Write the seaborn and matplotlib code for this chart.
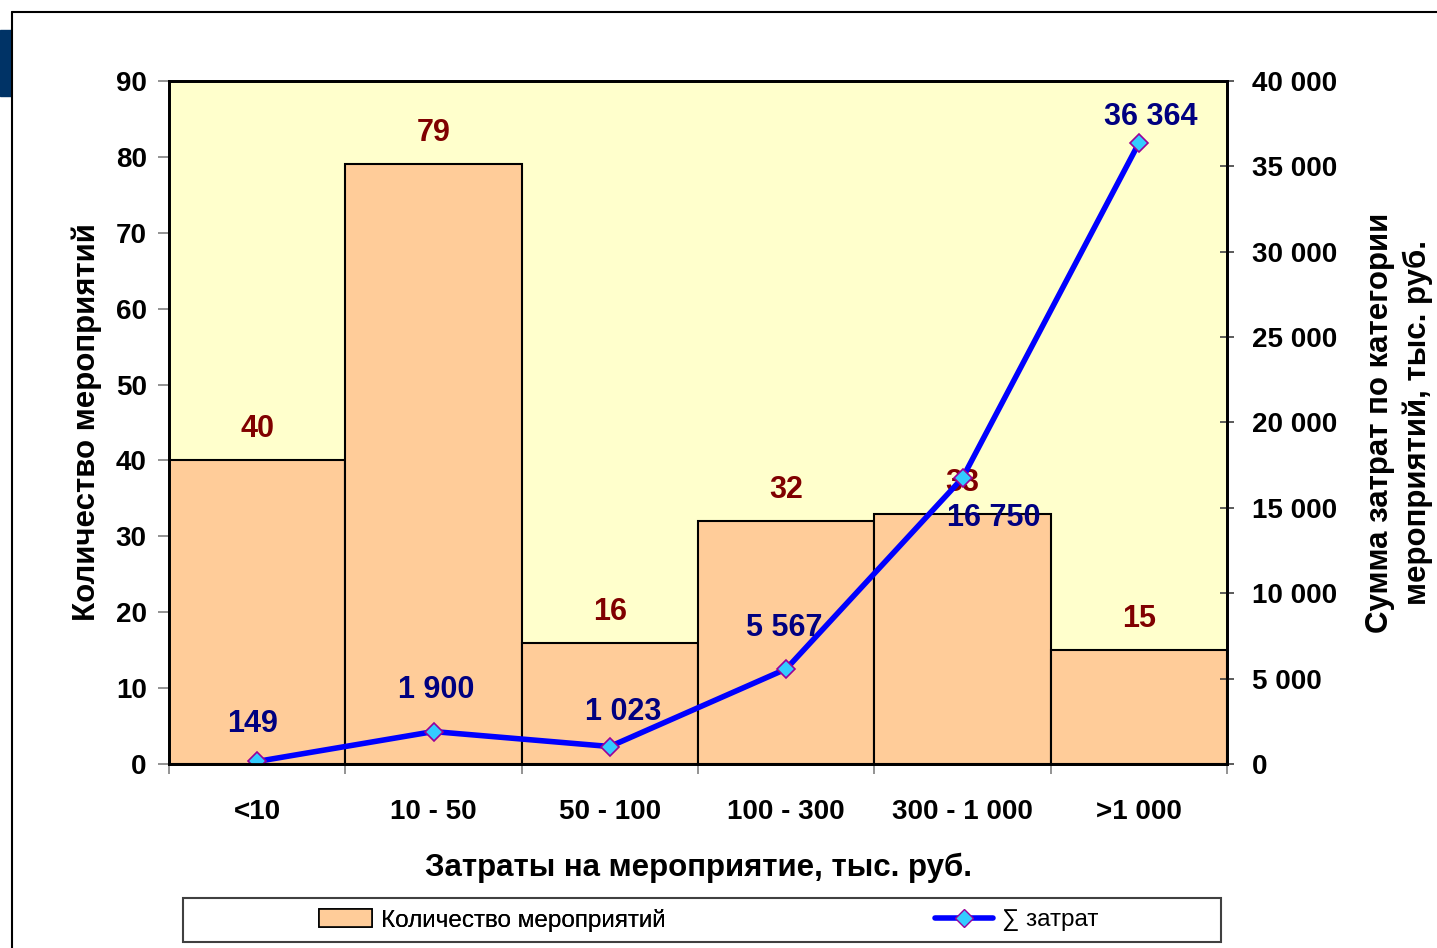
import matplotlib
matplotlib.use('Agg')
import matplotlib.pyplot as plt
from matplotlib.patches import Patch, Rectangle
from matplotlib.lines import Line2D
from matplotlib.ticker import FuncFormatter
import numpy as np
import pandas as pd
import seaborn as sns

# data
categories = ['<10', '10 - 50', '50 - 100', '100 - 300', '300 - 1 000', '>1 000']
counts = [40, 79, 16, 32, 33, 15]
sums = [149, 1900, 1023, 5567, 16750, 36364]

# label offsets (pixels) for the sum labels, as placed in the original
sum_offsets = [(-5, 37), (3, 42), (13, 35), (-2, 41), (31, -40), (12, 26)]


def spaced(v, pos=None):
    return f'{int(v):,}'.replace(',', ' ')


def main():
    sns.set_theme(style='white')
    plt.rcParams['font.family'] = ['Liberation Sans', 'DejaVu Sans']
    plt.rcParams['font.weight'] = 'bold'
    plt.rcParams['text.color'] = 'black'
    plt.rcParams['axes.labelcolor'] = 'black'

    df = pd.DataFrame({'cat': categories, 'count': counts, 'sum': sums})
    xs = np.arange(len(categories))

    fig = plt.figure(figsize=(14.37, 9.48), dpi=100)
    ax = fig.add_axes([0.1176, 0.1941, 0.7363, 0.7205])
    ax.set_facecolor('#FFFFCC')

    sns.barplot(data=df, x='cat', y='count', ax=ax, color='#FFCC99',
                width=1.0, edgecolor='black', linewidth=1.5, saturation=1)
    ax.set_xlim(-0.5, len(categories) - 0.5)
    ax.set_ylim(0, 90)
    ax.set_yticks(range(0, 91, 10))
    ax.tick_params(axis='y', labelsize=20, length=8, width=1.2, color='#808080',
                   labelcolor='black', direction='out', left=True, pad=8)
    for lab in ax.get_yticklabels():
        lab.set_fontweight('bold')

    # x ticks: marks at bar edges, labels at centres
    ax.set_xticks(np.arange(-0.5, len(categories), 1.0))
    ax.set_xticklabels([])
    ax.set_xticks(xs, minor=True)
    ax.set_xticklabels(categories, minor=True, fontsize=20, fontweight='bold')
    ax.tick_params(axis='x', which='major', bottom=True, length=7, width=1.2,
                   color='#808080', direction='out')
    ax.tick_params(axis='x', which='minor', bottom=True, length=0, pad=25,
                   labelcolor='black')

    for s in ax.spines.values():
        s.set_color('black')
        s.set_linewidth(2)

    ax.set_xlabel('Затраты на мероприятие, тыс. руб.', fontsize=22.5,
                  fontweight='bold', labelpad=20)
    ax.set_ylabel('Количество мероприятий', fontsize=22.5, fontweight='bold', labelpad=10)

    for x, c in zip(xs, counts):
        ax.annotate(str(c), (x, c), xytext=(0, 31), textcoords='offset pixels',
                    ha='center', va='center', fontsize=22, fontweight='bold',
                    color='#800000')

    ax2 = ax.twinx()
    sns.lineplot(x=xs, y=sums, ax=ax2, color='#0000FF', linewidth=4,
                 marker='D', markersize=9.5, markerfacecolor='#33CCFF',
                 markeredgecolor='#990099', markeredgewidth=1.2)
    ax2.set_ylim(0, 40000)
    ax2.set_yticks(range(0, 40001, 5000))
    ax2.yaxis.set_major_formatter(FuncFormatter(spaced))
    ax2.tick_params(axis='y', labelsize=20, length=10, width=1.2, color='#404040',
                    labelcolor='black', direction='inout', right=True, pad=13)
    for lab in ax2.get_yticklabels():
        lab.set_fontweight('bold')
    for s in ax2.spines.values():
        s.set_color('black')
        s.set_linewidth(2)
    ax2.set_ylabel('Сумма затрат по категории\nмероприятий, тыс. руб.', fontsize=22.5,
                   fontweight='bold', rotation=90, labelpad=20, linespacing=1.3)

    for x, v, (dx, dy) in zip(xs, sums, sum_offsets):
        ax2.annotate(spaced(v), (x, v), xytext=(dx, dy), textcoords='offset pixels',
                     ha='center', va='center', fontsize=22, fontweight='bold',
                     color='#000080')

    # outer decorations
    fig.add_artist(Line2D([12 / 1437, 12 / 1437], [0, 1 - 12 / 948],
                          transform=fig.transFigure, color='black', lw=1.5))
    fig.add_artist(Line2D([12 / 1437, 1], [1 - 12 / 948, 1 - 12 / 948],
                          transform=fig.transFigure, color='black', lw=1.5))
    fig.add_artist(Rectangle((0, 1 - 96 / 948), 11 / 1437, 66 / 948,
                             transform=fig.transFigure, color='#003366'))

    # legend box
    fig.add_artist(Rectangle((183 / 1437, 1 - 942 / 948), (1221 - 183) / 1437, 44 / 948,
                             transform=fig.transFigure, fill=False,
                             edgecolor='#404040', lw=1.5))
    h1 = Patch(facecolor='#FFCC99', edgecolor='black', linewidth=1.2)
    h2 = Line2D([], [], color='#0000FF', lw=4, marker='D', markersize=9.5,
                markerfacecolor='#33CCFF', markeredgecolor='#990099')
    lkw = dict(frameon=False, borderpad=0, borderaxespad=0, handletextpad=0.35,
               prop={'family': ['Liberation Sans'], 'size': 17.5, 'weight': 'normal'})
    leg1 = fig.legend([h1], ['Количество мероприятий'], loc='center left',
                      bbox_to_anchor=(319 / 1437, 1 - 920 / 948), handlelength=2.2,
                      handleheight=0.7, **lkw)
    fig.add_artist(leg1)
    fig.legend([h2], ['∑ затрат'], loc='center left',
               bbox_to_anchor=(935 / 1437, 1 - 920 / 948), handlelength=2.4, **lkw)

    fig.savefig('out.png', dpi=100)


if __name__ == '__main__':
    main()
